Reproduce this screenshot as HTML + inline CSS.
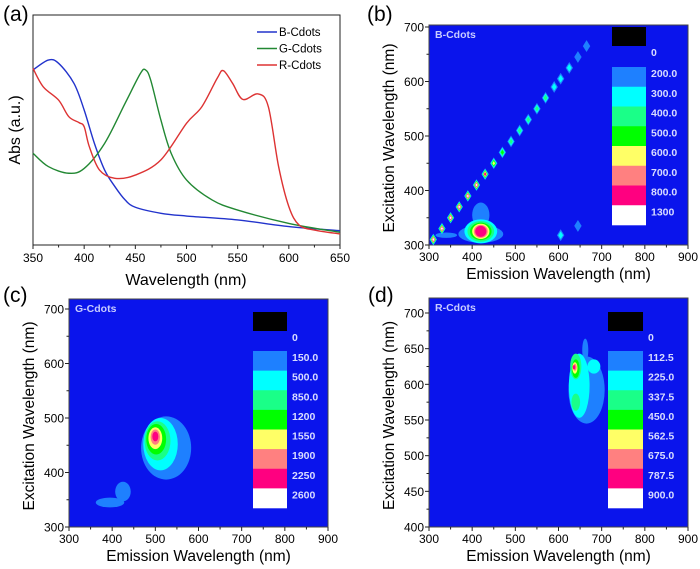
<!DOCTYPE html>
<html><head><meta charset="utf-8"><style>
html,body{margin:0;padding:0;background:#fff;}
svg{display:block;font-family:"Liberation Sans",sans-serif;}
</style></head><body>
<svg id="fig" width="700" height="569" viewBox="0 0 700 569" xmlns="http://www.w3.org/2000/svg"></svg>
<script>
// ---------- Panel (a) data ----------
const absTicks = [350,400,450,500,550,600,650];
const blueNm = [350,365,375,390,400,410,420,430,440,450,475,500,550,600,650];
const blueAbs = [.761,.804,.790,.703,.587,.442,.326,.254,.196,.164,.138,.126,.109,.080,.062];
const greenNm = [350,365,385,400,420,440,455,460,465,475,485,500,525,550,600,650];
const greenAbs = [.399,.341,.312,.333,.442,.616,.746,.761,.717,.543,.399,.283,.196,.152,.094,.055];
const redNm = [350,360,375,385,395,400,405,415,430,450,475,500,515,530,536,545,555,570,580,590,600,610,625,650];
const redAbs = [.768,.688,.630,.558,.532,.514,.428,.326,.290,.304,.370,.529,.601,.725,.758,.703,.633,.657,.601,.341,.167,.087,.065,.048];
const seriesNames = ["B-Cdots","G-Cdots","R-Cdots"];
// ---------- heatmap shared ----------
const levelColors = ["#1e80ff","#00ffff","#1aff88","#00ff00","#ffff66","#ff8080","#ff0080","#ffffff"];
const emTicks = [300,400,500,600,700,800,900];
const bExTicks = [300,400,500,600,700];
const cExTicks = [300,400,500,600,700];
const dExTicks = [400,450,500,550,600,650,700];
const bLegend = ["0","200.0","300.0","400.0","500.0","600.0","700.0","800.0","1300"];
const cLegend = ["0","150.0","500.0","850.0","1200","1550","1900","2250","2600"];
const dLegend = ["0","112.5","225.0","337.5","450.0","562.5","675.0","787.5","900.0"];
// (b) diagonal scatter peaks
const bDiagEx = [310,330,350,370,390,410,430,450,470,490,510,530,550,570,590,605,625,645,665];
const bDiagLevel = [7,7,7,7,7,7,6,4,3,2,2,2,2,2,1,1,1,0,0];
const bExtraEm = [605,645]; const bExtraEx = [318,335]; const bExtraLevel = [1,0];
// blobs: centre (em, ex), radii, level
const bBlobCx=[340,420,420,420,420,420,420,420,420,420];
const bBlobCy=[318,320,355,325,325,325,325,325,325,326];
const bBlobRx=[25,52,20,38,31,25,20,16,13,0];
const bBlobRy=[5,16,23,22,19,16,14,12,10,0];
const bBlobL=[0,0,0,1,2,3,4,5,6,6];
const cBlobCx=[525,425,395,512,505,502,500,500,500];
const cBlobCy=[445,365,345,452,458,461,463,465,466];
const cBlobRx=[58,18,33,40,30,23,16,11,7];
const cBlobRy=[58,18,9,48,36,28,20,14,9];
const cBlobL=[0,0,0,1,2,3,4,5,6];
const dBlobCx=[665,662,648,682,640,640,640,638,638,636];
const dBlobCy=[592,648,598,625,625,575,622,623,624,624];
const dBlobRx=[42,7,24,15,13,10,9,6,4,3];
const dBlobRy=[47,16,45,10,18,12,13,8,5,3];
const dBlobL=[0,0,1,1,2,2,3,4,5,6];

const NS="http://www.w3.org/2000/svg";
const svg=document.getElementById('fig');
function mk(tag,attrs,parent){const e=document.createElementNS(NS,tag);for(const k in attrs)e.setAttribute(k,attrs[k]);(parent||svg).appendChild(e);return e;}
function txt(x,y,s,size,anchor,parent,extra){const t=mk('text',Object.assign({x:x,y:y,'font-size':size,'text-anchor':anchor||'start',fill:'#000'},extra||{}),parent);t.textContent=s;return t;}

// ---------- Panel (a) ----------
const ga=mk('g',{});


const ax={x0:33,x1:340,y0:245,y1:15};
const sxA=nm=>ax.x0+(nm-350)*(ax.x1-ax.x0)/300;
const syA=v=>ax.y0-v*(ax.y0-ax.y1);
const fa=mk('rect',{x:ax.x0,y:ax.y1,width:ax.x1-ax.x0,height:ax.y0-ax.y1,fill:'#fff',stroke:'#222','stroke-width':1},ga);


absTicks.forEach(t=>{mk('line',{x1:sxA(t),x2:sxA(t),y1:ax.y0,y2:ax.y0+4,stroke:'#222'},ga);
 const l=txt(sxA(t),262,String(t),12,'middle',ga);
 
 });
for(let t=375;t<650;t+=50)mk('line',{x1:sxA(t),x2:sxA(t),y1:ax.y0,y2:ax.y0+2.5,stroke:'#222'},ga);
const xta=txt(186,285,'Wavelength (nm)',16,'middle',ga);


const yta=txt(0,0,'Abs (a.u.)',16,'middle',ga,{transform:'translate(20,130) rotate(-90)'});


const colsA=['#2233cc','#228833','#dd3333'];
[[blueNm,blueAbs],[greenNm,greenAbs],[redNm,redAbs]].forEach((s,i)=>{
 const pts=s[0].map((nm,j)=>[sxA(nm),syA(s[1][j])]);
 let d='M'+pts[0][0]+','+pts[0][1];
 for(let j=0;j<pts.length-1;j++){const p0=pts[Math.max(0,j-1)],p1=pts[j],p2=pts[j+1],p3=pts[Math.min(pts.length-1,j+2)];
  d+=' C'+(p1[0]+(p2[0]-p0[0])/6)+','+(p1[1]+(p2[1]-p0[1])/6)+' '+(p2[0]-(p3[0]-p1[0])/6)+','+(p2[1]-(p3[1]-p1[1])/6)+' '+p2[0]+','+p2[1];}
 const p=mk('path',{d:d,fill:'none',stroke:colsA[i],'stroke-width':1.4},ga);
 
 
 const ly=32+i*16.5;
 const ll=mk('line',{x1:257,x2:277,y1:ly,y2:ly,stroke:colsA[i],'stroke-width':1.4},ga);
 
 
 const lt=txt(279,ly+4,seriesNames[i],11.5,'start',ga);
 
 
});

// ---------- heatmap builder ----------
function heatmap(cfg){
 const g=mk('g',{});
 
 
 const sx=v=>cfg.x0+(v-300)*(cfg.x1-cfg.x0)/600;
 const sy=v=>cfg.y0-(v-cfg.eMin)*(cfg.y0-cfg.yMax)/(cfg.eMaxTick-cfg.eMin);
 const bg=mk('rect',{x:cfg.x0,y:cfg.top,width:cfg.x1-cfg.x0,height:cfg.y0-cfg.top,fill:'#0a14ec',stroke:'#444','stroke-width':1},g);
 
 
 const kx=(cfg.x1-cfg.x0)/600, ky=(cfg.y0-cfg.yMax)/(cfg.eMaxTick-cfg.eMin);
 const idx=cfg.bl.map((l,i)=>i).sort((a,b)=>cfg.bl[a]-cfg.bl[b]);
 idx.forEach(i=>{if(cfg.brx[i]<=0)return;
  const e=mk('ellipse',{cx:sx(cfg.bx[i]),cy:sy(cfg.by[i]),rx:cfg.brx[i]*kx,ry:cfg.bry[i]*ky,fill:levelColors[cfg.bl[i]]},g);
  
  });
 if(cfg.diag){
  const draw=(em,ex,lv)=>{for(let l=0;l<=lv;l++){const f=1-l/(lv+1.5);const hw=3.2*f+0.5,hh=5.2*f+0.7;const cx=sx(em),cy=sy(ex);
   const d=mk('polygon',{points:`${cx-hw},${cy} ${cx},${cy-hh} ${cx+hw},${cy} ${cx},${cy+hh}`,fill:levelColors[l]},g);
   
   }};
  bDiagEx.forEach((ex,i)=>draw(ex,ex,bDiagLevel[i]));
  bExtraEm.forEach((em,i)=>draw(em,bExtraEx[i],bExtraLevel[i]));
 }
 emTicks.forEach(t=>{mk('line',{x1:sx(t),x2:sx(t),y1:cfg.y0,y2:cfg.y0+4,stroke:'#222'},g);
  const l=txt(sx(t),cfg.y0+16,String(t),12,'middle',g);
  
  });
 for(let t=350;t<900;t+=100)mk('line',{x1:sx(t),x2:sx(t),y1:cfg.y0,y2:cfg.y0+2.5,stroke:'#222'},g);
 cfg.exTicks.forEach(t=>{mk('line',{x1:cfg.x0-4,x2:cfg.x0,y1:sy(t),y2:sy(t),stroke:'#222'},g);
  const l=txt(cfg.x0-5,sy(t)+4.5,String(t),12,'end',g);
  
  });
 const step=cfg.exTicks[1]-cfg.exTicks[0];
 for(let t=cfg.exTicks[0]+step/2;t<cfg.exTicks[cfg.exTicks.length-1];t+=step)mk('line',{x1:cfg.x0-2.5,x2:cfg.x0,y1:sy(t),y2:sy(t),stroke:'#222'},g);
 const xt=txt((cfg.x0+cfg.x1)/2,cfg.y0+34,'Emission Wavelength (nm)',15.5,'middle',g);
 
 
 const yt=txt(0,0,'Excitation Wavelength (nm)',15.5,'middle',g,{transform:`translate(${cfg.x0-35},${(cfg.y0+cfg.top)/2+3}) rotate(-90)`});
 
 
 const nm=txt(cfg.x0+6,cfg.top+13,cfg.title,10.5,'start',g,{fill:'#c8ccff','font-weight':'bold'});
 
 
 const lb=mk('rect',{x:cfg.lx,y:cfg.ly,width:cfg.lw,height:19,fill:'#000'},g);
 
 
 const bh=(cfg.lb1-cfg.lb0)/8;
 levelColors.forEach((c,i)=>{const r=mk('rect',{x:cfg.lx,y:cfg.lb0+i*bh,width:cfg.lw,height:bh+0.3,fill:c},g);
  
  });
 cfg.legend.forEach((s,i)=>{const y=i==0?cfg.ly+25:cfg.lb0+(i-1)*bh+6;
  const t=txt(cfg.lx+cfg.lw+5,y+4,s,10.5,'start',g,{fill:'#d8dcff','font-weight':'bold'});
  
  });
}
heatmap({name:'b-cdots-heatmap',title:'B-Cdots',x0:429,x1:688,top:25,y0:245,yMax:27,eMin:300,eMaxTick:700,exTicks:bExTicks,
 bx:bBlobCx,by:bBlobCy,brx:bBlobRx,bry:bBlobRy,bl:bBlobL,diag:true,lx:612,ly:27,lw:34,lb0:67,lb1:225,legend:bLegend});
heatmap({name:'g-cdots-heatmap',title:'G-Cdots',x0:69,x1:328,top:299,y0:527,yMax:309,eMin:300,eMaxTick:700,exTicks:cExTicks,
 bx:cBlobCx,by:cBlobCy,brx:cBlobRx,bry:cBlobRy,bl:cBlobL,diag:false,lx:253,ly:312,lw:34,lb0:351,lb1:508,legend:cLegend});
heatmap({name:'r-cdots-heatmap',title:'R-Cdots',x0:429,x1:688,top:298,y0:527,yMax:313,eMin:400,eMaxTick:700,exTicks:dExTicks,
 bx:dBlobCx,by:dBlobCy,brx:dBlobRx,bry:dBlobRy,bl:dBlobL,diag:false,lx:608,ly:312,lw:35,lb0:351,lb1:508,legend:dLegend});

[['(a)',3,21],['(b)',367,21],['(c)',3,302],['(d)',368,302]].forEach(p=>{
 const t=txt(p[1],p[2],p[0],21,'start');
 
 });
</script>
</body></html>
